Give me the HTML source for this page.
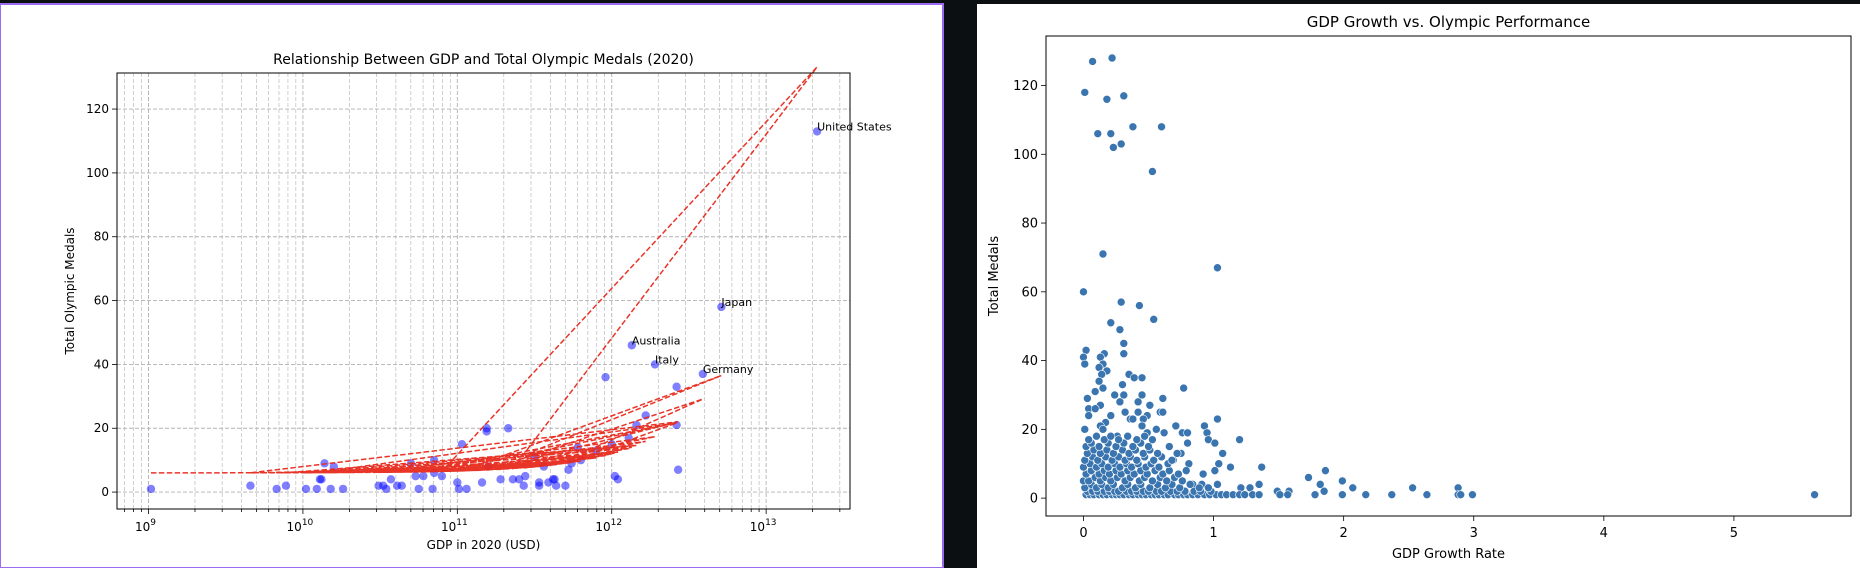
<!DOCTYPE html>
<html><head><meta charset="utf-8">
<style>
html,body{margin:0;padding:0;background:#0b0f12;width:1860px;height:568px;overflow:hidden;font-family:"DejaVu Sans","Liberation Sans",sans-serif}
svg{position:absolute;left:0;top:0}
</style></head>
<body>
<svg id="chart" width="1860" height="568" xmlns="http://www.w3.org/2000/svg">
  <rect x="0" y="4" width="943" height="564" fill="#fff" stroke="#9a6cf0" stroke-width="2"/>
  <rect x="977" y="4" width="883" height="564" fill="#fff"/>
  <g id="left"></g>
  <g id="right"></g>
</svg>
<script>
// ---------- Left chart data ----------
const leftGdpLog = [9.016,10.14,11.56,10.73,12.42,10.9,13.33,11.36,11.03,12.71,11.19,12.28,10.49,11.64,12.59,11.2,12.43,9.66,11.4,12.13,10.2,11.74,9.89,12.16,10.02,11.28,12.22,10.57,11.7,12.42,10.09,11.44,12.11,10.11,12.04,10.78,11.16,11.96,10.26,11.53,12.02,10.54,11.33,10.12,10.61,11.01,10.18,11.59,10.64,11.06,10.84,11.62,10.75,11.78,10.52,11.19,11.9,10.85,11.63,11.0,11.53,11.43,11.72,10.7,10.85,12.0,11.5,11.8,9.83];
const leftMedals = [1,9,8,5,33,5,113,4,15,58,20,40,2,2,37,8,7,2,4,46,8,9,2,21,1,4,24,4,2,21,1,5,17,4,4,5,3,36,1,3,5,1,20,4,2,1,1,3,2,1,1,4,1,14,2,19,13,6,4,3,2,2,7,9,10,15,11,10,1];
const labeledCountries = ["United States","Japan","Australia","Italy","Germany"];
const labeledGdpLog = [13.33,12.71,12.13,12.28,12.59];
const labeledMedals = [113,58,46,40,37];
const fitIntercept = 6.0, fitSlopePerTrillion = 5.95;
const xTickExps = [9,10,11,12,13];
const yTicksLeft = [0,20,40,60,80,100,120];

// ---------- Right chart data ----------
const growth = [0.07,0.22,0.01,0.18,0.31,0.11,0.21,0.38,0.6,0.23,0.29,0.53,0.15,1.03,0.0,0.29,0.43,0.54,0.21,0.28,0.31,0.31,0.02,0.0,0.01,0.16,0.13,0.15,0.18,0.12,0.35,0.39,0.45,0.14,0.12,0.3,0.15,0.77,0.09,0.03,0.24,0.45,0.31,0.61,0.28,0.42,0.51,0.13,0.04,0.09,0.32,0.42,0.59,0.61,0.21,0.04,0.49,1.03,0.36,0.38,0.46,0.17,0.71,0.93,0.13,0.45,0.01,0.56,0.15,0.76,0.8,0.95,0.49,0.62,1.2,0.96,0.53,0.26,1.01,0.8,1.07,0.75,1.04,1.13,1.37,1.73,1.86,1.99,2.07,1.82,1.85,1.78,1.99,2.17,2.37,2.53,2.64,2.88,2.88,2.9,2.99,5.62,1.49,1.58,1.51,1.57,1.35,1.28,1.21,1.03,1.01,0.92,0.91,0.84,0.81,0.79,0.72,0.69,0.66,
0.02,0.05,0.08,0.12,0.15,0.18,0.22,0.25,0.28,0.31,0.35,0.38,0.42,0.45,0.48,0.52,0.55,0.58,0.62,0.65,0.7,0.73,0.77,0.8,0.84,0.88,0.93,0.97,1.02,1.06,1.1,1.15,1.2,1.24,1.3,1.35,
0.03,0.07,0.11,0.16,0.2,0.24,0.27,0.33,0.37,0.41,0.46,0.5,0.56,0.6,0.67,0.72,0.78,0.85,0.9,0.98,
0.01,0.06,0.1,0.14,0.19,0.23,0.3,0.34,0.4,0.44,0.51,0.57,0.63,0.68,0.74,0.82,0.89,0.96,
0.0,0.04,0.09,0.13,0.17,0.21,0.26,0.32,0.36,0.43,0.47,0.53,0.59,0.64,0.7,0.76,
0.02,0.06,0.12,0.16,0.2,0.25,0.29,0.34,0.39,0.44,0.49,0.55,0.61,0.66,0.73,
0.0,0.05,0.1,0.14,0.19,0.24,0.28,0.33,0.37,0.42,0.48,0.52,0.58,0.65,
0.01,0.07,0.11,0.17,0.22,0.27,0.32,0.36,0.41,0.47,0.54,0.6,0.68,
0.03,0.08,0.13,0.18,0.23,0.3,0.35,0.4,0.46,0.51,0.57,
0.02,0.06,0.12,0.19,0.25,0.31,0.38,0.44,0.5,
0.04,0.1,0.16,0.21,0.27,0.34,0.41,0.47];
const medals = [127,128,118,116,117,106,106,108,108,102,103,95,71,67,60,57,56,52,51,49,45,42,43,41,39,42,41,39,37,38,36,35,35,36,34,33,32,32,31,29,30,30,30,29,28,28,27,27,26,26,25,25,25,25,24,24,24,23,23,23,23,22,21,21,21,21,20,20,20,19,19,19,19,19,17,17,17,18,16,16,13,13,10,9,9,6,8,5,3,4,2,1,1,1,1,3,1,3,1,1,1,1,2,2,1,1,4,3,3,4,8,7,4,4,10,8,13,11,15,
1,1,1,1,1,1,1,1,1,1,1,1,1,1,1,1,1,1,1,1,1,1,1,1,1,1,1,1,1,1,1,1,1,1,1,1,
2,2,2,2,2,2,2,2,2,2,2,2,2,2,2,2,2,2,2,2,
3,4,3,4,3,4,3,4,3,4,3,4,3,4,3,4,3,3,
5,5,6,5,6,5,6,5,6,5,6,5,6,5,6,5,
7,8,7,8,7,8,7,8,7,8,7,8,7,8,7,
9,10,9,10,9,10,9,10,9,10,9,10,9,10,
11,12,11,12,11,12,11,12,11,12,11,12,11,
13,14,13,14,13,14,13,14,13,14,13,
15,16,15,16,15,16,15,16,15,
17,18,17,18,17,18,17,18];
const xTicksRight = [0,1,2,3,4,5];
const yTicksRight = [0,20,40,60,80,100,120];

const NS = "http://www.w3.org/2000/svg";
function mk(parent, tag, attrs, text){
  const el = document.createElementNS(NS, tag);
  for (const k in attrs) el.setAttribute(k, attrs[k]);
  if (text !== undefined) el.textContent = text;
  parent.appendChild(el);
  return el;
}

// ---------- Left chart ----------
(function(){
  const g = document.getElementById('left');
  const L = 117, R = 850, T = 73, B = 509;
  const xmin = 8.796, xmax = 13.543, ymin = -5.3, ymax = 131.3;
  const sx = v => L + (v - xmin) / (xmax - xmin) * (R - L);
  const sy = v => B - (v - ymin) / (ymax - ymin) * (B - T);
  for (let e = 8; e <= 13; e++) {
    for (let m = 1; m < 10; m++) {
      const lv = e + Math.log10(m);
      if (lv < xmin || lv > xmax) continue;
      const gl = mk(g, 'line', {x1: sx(lv), x2: sx(lv), y1: T, y2: B, stroke: '#b0b0b0', 'stroke-width': m===1?0.9:0.6, 'stroke-dasharray': '4,2'});
      
      
      const tk = mk(g, 'line', {x1: sx(lv), x2: sx(lv), y1: B, y2: B + (m===1?5:3), stroke: '#000', 'stroke-width': 0.8});
      
      
    }
  }
  yTicksLeft.forEach(v => {
    const gl = mk(g, 'line', {x1: L, x2: R, y1: sy(v), y2: sy(v), stroke: '#b0b0b0', 'stroke-width': 0.9, 'stroke-dasharray': '4,2'});
    
    
    const tk = mk(g, 'line', {x1: L - 5, x2: L, y1: sy(v), y2: sy(v), stroke: '#000', 'stroke-width': 0.8});
    
    
    const t = mk(g, 'text', {x: L - 8, y: sy(v) + 4, 'text-anchor': 'end', 'font-size': 12, fill: '#000'}, String(v));
    
    
  });
  xTickExps.forEach(e => {
    const t = mk(g, 'text', {x: sx(e) - 3, y: B + 22, 'text-anchor': 'middle', 'font-size': 12, fill: '#000'}, '10');
    mk(t, 'tspan', {dy: -6, 'font-size': 9}, String(e));
    
    
  });
  leftGdpLog.forEach((v, i) => {
    const c = mk(g, 'circle', {cx: sx(v), cy: sy(leftMedals[i]), r: 4.2, fill: 'rgba(0,0,255,0.5)'});
    
    
  });
  const pts = leftGdpLog.map(v => sx(v) + ',' + sy(fitIntercept + fitSlopePerTrillion * Math.pow(10, v) / 1e12));
  const pl = mk(g, 'polyline', {points: pts.join(' '), fill: 'none', stroke: '#e8291c', 'stroke-width': 1.5, 'stroke-dasharray': '5.5,2.4', opacity: 0.95});
  
  
  labeledCountries.forEach((n, i) => {
    const t = mk(g, 'text', {x: sx(labeledGdpLog[i]), y: sy(labeledMedals[i]) - 1, 'font-size': 11, fill: '#000'}, n);
    
    
  });
  const fr = mk(g, 'rect', {x: L, y: T, width: R - L, height: B - T, fill: 'none', stroke: '#000', 'stroke-width': 1});
  
  
  const ti = mk(g, 'text', {x: (L + R) / 2, y: 64, 'text-anchor': 'middle', 'font-size': 14, fill: '#000'}, 'Relationship Between GDP and Total Olympic Medals (2020)');
  
  
  const xl = mk(g, 'text', {x: (L + R) / 2, y: 549, 'text-anchor': 'middle', 'font-size': 12, fill: '#000'}, 'GDP in 2020 (USD)');
  
  
  const yl = mk(g, 'text', {x: 0, y: 0, 'text-anchor': 'middle', 'font-size': 12, fill: '#000', transform: 'translate(74,291) rotate(-90)'}, 'Total Olympic Medals');
  
  
})();

// ---------- Right chart ----------
(function(){
  const g = document.getElementById('right');
  const L = 1046, R = 1851, T = 36, B = 516;
  const xmin = -0.288, xmax = 5.9, ymin = -5.2, ymax = 134.4;
  const sx = v => L + (v - xmin) / (xmax - xmin) * (R - L);
  const sy = v => B - (v - ymin) / (ymax - ymin) * (B - T);
  growth.forEach((v, i) => {
    const c = mk(g, 'circle', {cx: sx(v), cy: sy(medals[i]), r: 4, fill: '#3a75b0', stroke: '#fff', 'stroke-width': 0.6});
    
    
  });
  yTicksRight.forEach(v => {
    const tk = mk(g, 'line', {x1: L - 5, x2: L, y1: sy(v), y2: sy(v), stroke: '#000', 'stroke-width': 0.8});
    
    
    const t = mk(g, 'text', {x: L - 8, y: sy(v) + 4.5, 'text-anchor': 'end', 'font-size': 13, fill: '#000'}, String(v));
    
    
  });
  xTicksRight.forEach(v => {
    const tk = mk(g, 'line', {x1: sx(v), x2: sx(v), y1: B, y2: B + 5, stroke: '#000', 'stroke-width': 0.8});
    
    
    const t = mk(g, 'text', {x: sx(v), y: B + 21, 'text-anchor': 'middle', 'font-size': 13, fill: '#000'}, String(v));
    
    
  });
  const fr = mk(g, 'rect', {x: L, y: T, width: R - L, height: B - T, fill: 'none', stroke: '#000', 'stroke-width': 1});
  
  
  const ti = mk(g, 'text', {x: (L + R) / 2, y: 27, 'text-anchor': 'middle', 'font-size': 15, fill: '#000'}, 'GDP Growth vs. Olympic Performance');
  
  
  const xl = mk(g, 'text', {x: (L + R) / 2, y: 558, 'text-anchor': 'middle', 'font-size': 13, fill: '#000'}, 'GDP Growth Rate');
  
  
  const yl = mk(g, 'text', {x: 0, y: 0, 'text-anchor': 'middle', 'font-size': 13, fill: '#000', transform: 'translate(998,276) rotate(-90)'}, 'Total Medals');
  
  
})();
</script>
</body></html>
